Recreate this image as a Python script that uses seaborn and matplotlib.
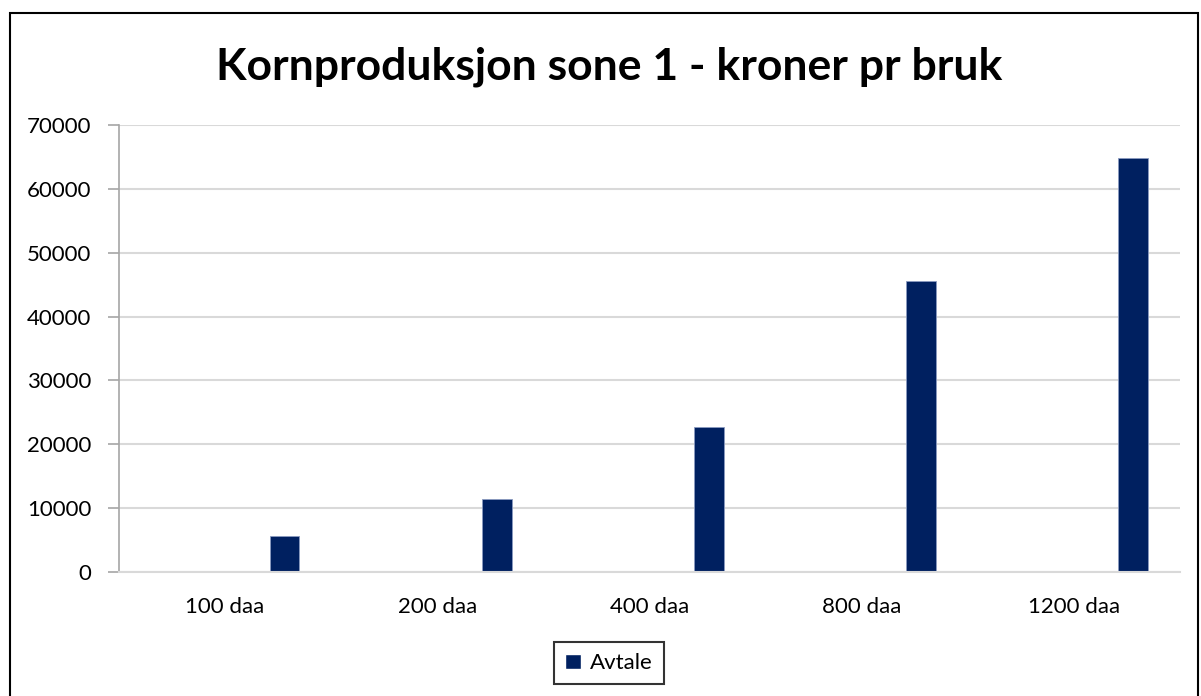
import matplotlib
matplotlib.use("Agg")
import matplotlib.pyplot as plt
from matplotlib.patches import Rectangle, Patch
import pandas as pd
import seaborn as sns

categories = ["100 daa", "200 daa", "400 daa", "800 daa", "1200 daa"]
avtale = [5600, 11400, 22700, 45600, 64800]
series_name = "Avtale"
# empty series slots in the original workbook, only the last one has values
series_order = ["s1", "s2", "s3", "s4", series_name]
yticks = [0, 10000, 20000, 30000, 40000, 50000, 60000, 70000]

df = pd.DataFrame({"kategori": categories, "kroner": avtale, "serie": series_name})

sns.set_style("white")
plt.rcParams["font.family"] = ["Lato", "DejaVu Sans"]
plt.rcParams["text.color"] = "black"
plt.rcParams["xtick.color"] = "black"
plt.rcParams["ytick.color"] = "black"

fig = plt.figure(figsize=(12.01, 6.96), dpi=100)
ax = fig.add_axes([0.0991, 0.178, 0.8834, 0.6424])

bar_color = "#002060"
sns.barplot(data=df, x="kategori", y="kroner", hue="serie", hue_order=series_order,
            order=categories, palette={s: bar_color for s in series_order},
            dodge=True, width=0.7, saturation=1, edgecolor="#8a9ac0", linewidth=0.6,
            ax=ax, legend=False)

ax.set_ylim(0, 70000)
ax.set_yticks(yticks)
ax.set_yticklabels([str(v) for v in yticks])
ax.set_xlim(-0.5, len(categories) - 0.5)
ax.yaxis.grid(True, color="#d9d9d9", linewidth=1.5)
ax.set_axisbelow(True)
for side in ["top", "right"]:
    ax.spines[side].set_visible(False)
ax.spines["left"].set_color("#a6a6a6")
ax.spines["bottom"].set_color("#d9d9d9")
ax.spines["left"].set_linewidth(1.2)
ax.spines["bottom"].set_linewidth(1.5)
ax.tick_params(axis="y", length=8, width=1.2, color="#a6a6a6", labelcolor="black",
               labelsize=16, pad=12, direction="out", left=True)
ax.tick_params(axis="x", length=0, labelsize=16, labelcolor="black", pad=18)
ax.set_xlabel("")
ax.set_ylabel("")

fig.text(0.507, 0.904, "Kornproduksjon sone 1 - kroner pr bruk", ha="center", va="center",
         fontsize=32, fontweight="bold", color="black")

fig.legend(handles=[Patch(facecolor=bar_color, label=series_name)], loc="center",
           bbox_to_anchor=(0.507, 0.047), fontsize=16, frameon=True, fancybox=False,
           edgecolor="black", handlelength=0.7, handleheight=0.7, handletextpad=0.4,
           borderpad=0.5)
leg = fig.legends[0]
leg.get_frame().set_linewidth(1.5)

fig.patches.append(Rectangle((10 / 1201, -0.05), 1188 / 1201, 1 - 13 / 696 + 0.05,
                             transform=fig.transFigure, fill=False, edgecolor="black",
                             linewidth=1.5, figure=fig))

fig.savefig("out.png", dpi=100)
